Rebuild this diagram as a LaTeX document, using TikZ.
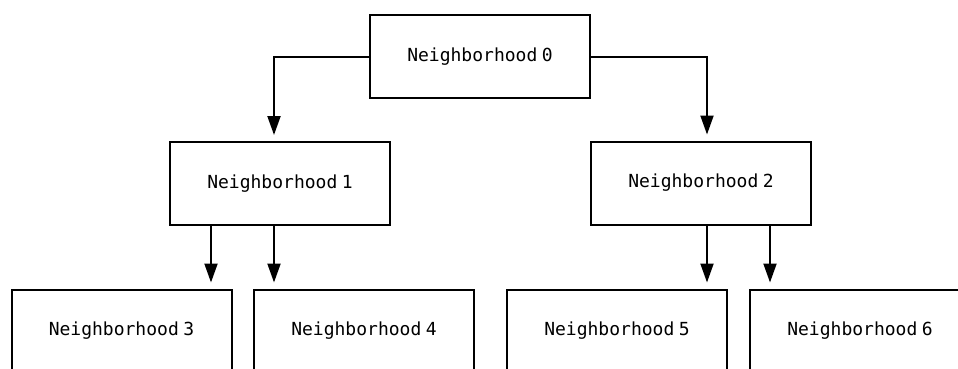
\documentclass[tikz,border=0pt]{standalone}
\usepackage{fontspec}
\newfontfamily\monofont{DejaVu Sans Mono}
\usetikzlibrary{arrows.meta,calc}
\begin{document}
\begin{tikzpicture}[x=1pt,y=-1pt,
  hood/.style={draw=black,line width=2pt,rectangle,minimum width=220pt,minimum height=83pt,
    inner sep=0pt,outer sep=0pt,font=\monofont\fontsize{18}{20}\selectfont},
  link/.style={line width=2pt,-{Triangle[length=19pt,width=13pt]},shorten >=7pt}]
\useasboundingbox (0,0) rectangle (958,368);
\clip (0,0) rectangle (958,368);
\fill[white] (0,0) rectangle (958,368);
\newcommand{\hood}[1]{Neighborhood\hspace{0.25em}#1}
% neighbourhood tree
\node[hood] (n0) at (480,56.5) {\hood{0}};
\node[hood] (n1) at (280,183.5) {\hood{1}};
\node[hood] (n2) at (701,183) {\hood{2}};
\node[hood] (n3) at (121.5,331) {\hood{3}};
\node[hood] (n4) at (364,331) {\hood{4}};
\node[hood] (n5) at (617,331) {\hood{5}};
\node[hood] (n6) at (860,331) {\hood{6}};
% root to second level
\draw[link] (n0.west) -| ([xshift=-6pt]n1.north);
\draw[link] (n0.east) -| ([xshift=6pt]n2.north);
% second level to leaves
\draw[link] ([xshift=-69pt]n1.south) -- ([xshift=-69pt]n1.south |- n3.north);
\draw[link] ([xshift=-6pt]n1.south) -- ([xshift=-6pt]n1.south |- n4.north);
\draw[link] ([xshift=6pt]n2.south) -- ([xshift=6pt]n2.south |- n5.north);
\draw[link] ([xshift=69pt]n2.south) -- ([xshift=69pt]n2.south |- n6.north);
\end{tikzpicture}
\end{document}
